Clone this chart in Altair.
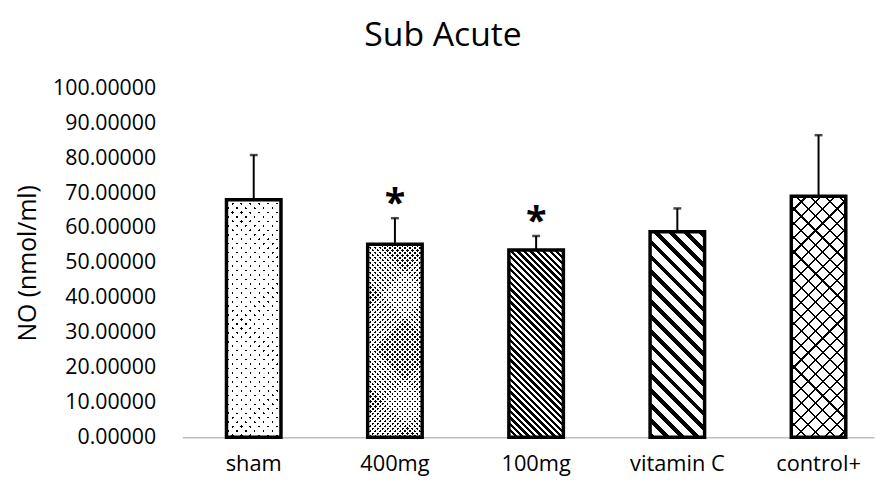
import altair as alt
import pandas as pd

# ---- data ----
groups = ["sham", "400mg", "100mg", "vitamin C", "control+"]
means = [68.1, 55.3, 53.7, 58.9, 69.1]
errors = [12.8, 7.5, 4.0, 6.7, 17.5]
stars = ["", "*", "*", "", ""]
y_ticks = [0, 10, 20, 30, 40, 50, 60, 70, 80, 90, 100]

# ---- layout / style ----
PLOT_W, PLOT_H = 698, 352
BAR_W = 55
Y_MAX = 100
FONT = "Open Sans"
CLEAR = "rgba(255,255,255,0)"

df = pd.DataFrame({"group": groups, "mean": means, "err": errors, "star": stars})
df["upper"] = df["mean"] + df["err"]


def stripes(direction, h_px, period, width, ink, paper):
    """Hard-stop linear gradient giving 45-degree stripes on a bar of BAR_W x h_px."""
    w = BAR_W
    span = w + h_px
    a = span / (w * w + h_px * h_px)
    if direction == "down":  # lines running like "\"
        x1, y1, x2, y2 = 0, 1, a * w, 1 - a * h_px
    else:  # lines running like "/"
        x1, y1, x2, y2 = 0, 0, a * w, a * h_px
    stops = []
    k = 0
    while k * period < span:
        s = round(k * period / span, 6)
        e = round(min((k * period + width) / span, 1), 6)
        n = round(min((k + 1) * period / span, 1), 6)
        stops += [
            alt.GradientStop(offset=s, color=ink),
            alt.GradientStop(offset=e, color=ink),
            alt.GradientStop(offset=e, color=paper),
            alt.GradientStop(offset=n, color=paper),
        ]
        k += 1
    return alt.LinearGradient(gradient="linear", stops=stops,
                              x1=x1, y1=y1, x2=x2, y2=y2)


patterns = {
    "sham": [("up", 9, 2.2, "#000", "#fff"), ("down", 9, 6.8, "#fff", CLEAR)],
    "400mg": [("up", 5, 2.6, "#000", "#fff"), ("down", 5, 2.4, "#fff", CLEAR)],
    "100mg": [("down", 6.5, 3.3, "#000", "#fff")],
    "vitamin C": [("down", 15, 5.8, "#000", "#fff")],
    "control+": [("up", 14.5, 2.2, "#000", "#fff"), ("down", 14.5, 2.2, "#000", CLEAR)],
}

xscale = alt.Scale(domain=groups, paddingInner=0.5, paddingOuter=0.199, align=0.641)
yscale = alt.Scale(domain=[0, Y_MAX], nice=False, zero=True)

xaxis = alt.Axis(title=None, labelAngle=0, ticks=False, tickSize=0,
                 domainColor="#BFBFBF", domainWidth=1.5,
                 labelFont=FONT, labelFontSize=22, labelColor="#000",
                 labelBaseline="alphabetic", labelPadding=34)
yaxis = alt.Axis(title="NO (nmol/ml)", values=y_ticks, format=".5f",
                 grid=False, domain=False, ticks=False, tickSize=0,
                 labelFont=FONT, labelFontSize=21.5, labelColor="#000",
                 labelPadding=27, labelBaseline="middle",
                 titleFont=FONT, titleFontSize=25, titleFontWeight="normal",
                 titleColor="#000", titleX=-148, titleY=PLOT_H / 2,
                 titleAngle=270, titleBaseline="alphabetic", titleAlign="center")

base = alt.Chart(df).encode(
    x=alt.X("group:N", sort=groups, scale=xscale, axis=xaxis),
)

layers = []
for g, m in zip(groups, means):
    h_px = m / Y_MAX * PLOT_H
    for (d, per, wid, ink, paper) in patterns[g]:
        grad = stripes(d, h_px, per, wid, ink, paper)
        layers.append(
            base.transform_filter(alt.datum.group == g)
            .mark_bar(size=BAR_W, fill=grad, strokeWidth=0)
            .encode(y=alt.Y("mean:Q", scale=yscale, axis=yaxis))
        )

outline = base.mark_bar(size=BAR_W, fill="transparent", stroke="#000",
                        strokeWidth=3.5, strokeJoin="miter").encode(
    y=alt.Y("mean:Q", scale=yscale, axis=yaxis))

err_line = base.mark_rule(color="#000", strokeWidth=2).encode(
    y=alt.Y("mean:Q", scale=yscale, axis=yaxis), y2="upper:Q")

err_cap = base.mark_tick(color="#000", orient="horizontal", size=8,
                         thickness=2.5).encode(
    y=alt.Y("upper:Q", scale=yscale, axis=yaxis))

star_text = base.transform_filter(alt.datum.star != "").mark_text(
    font=FONT, fontSize=38, fontWeight="bold", color="#000",
    baseline="alphabetic", dy=-2).encode(
    y=alt.Y("upper:Q", scale=yscale, axis=yaxis), text="star:N")

chart = alt.layer(*layers, outline, err_line, err_cap, star_text).properties(
    width=PLOT_W, height=PLOT_H,
    autosize=alt.AutoSizeParams(type="none"),
    padding={"left": 176, "top": 79, "right": 2, "bottom": 40},
    background="white",
    title=alt.Title("Sub Acute", font=FONT, fontSize=34, fontWeight="normal",
                    color="#000", anchor="middle", dx=-86, offset=25),
).configure_view(stroke=None, strokeWidth=0)

chart.save("out.html", embed_options={"renderer": "svg", "actions": False})
